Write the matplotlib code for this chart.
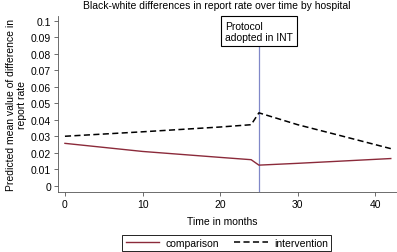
import matplotlib
matplotlib.use("Agg")
import matplotlib.pyplot as plt

plt.rcParams["font.family"] = ["Liberation Sans", "DejaVu Sans"]

# values
months_comp = [0, 10, 20, 24, 25, 30, 35, 42]
comparison = [0.0257, 0.0208, 0.0172, 0.0158, 0.0125, 0.0136, 0.0148, 0.0165]
months_int = [0, 10, 20, 24, 25, 30, 35, 42]
intervention = [0.0300, 0.0327, 0.0356, 0.0370, 0.0442, 0.0370, 0.0310, 0.0225]
protocol_month = 25
yticks = [0, 0.01, 0.02, 0.03, 0.04, 0.05, 0.06, 0.07, 0.08, 0.09, 0.1]
ytick_labels = ["0", "0.01", "0.02", "0.03", "0.04", "0.05", "0.06", "0.07", "0.08", "0.09", "0.1"]
xticks = [0, 10, 20, 30, 40]

FS = 7.5

fig = plt.figure(figsize=(3.97, 2.53), dpi=100)
ax = fig.add_axes([0.146, 0.237, 0.854, 0.696])

ax.plot(months_comp, comparison, color="#8b2a3a", lw=1.0, label="comparison")
ax.plot(months_int, intervention, color="black", lw=1.1, ls=(0, (4, 2.2)), label="intervention")
ax.plot([protocol_month, protocol_month], [-0.004, 0.084], color="#8088c8", lw=0.9, zorder=1)

ax.text(protocol_month, 0.0935, "Protocol\nadopted in INT", fontsize=FS, ha="center", va="center",
        multialignment="left", clip_on=False,
        bbox=dict(boxstyle="square,pad=0.4", fc="white", ec="black", lw=0.8))

ax.set_xlim(-0.9, 42.8)
ax.set_ylim(-0.0038, 0.1029)
ax.set_xticks(xticks)
ax.set_yticks(yticks)
ax.set_yticklabels(ytick_labels)
ax.tick_params(labelsize=FS, length=3, width=0.6, color="#555555", pad=2)
for s in ["top", "right"]:
    ax.spines[s].set_visible(False)
for s in ["left", "bottom"]:
    ax.spines[s].set_color("#555555")
    ax.spines[s].set_linewidth(0.6)

ax.set_ylabel("Predicted mean value of difference in\nreport rate", fontsize=FS, labelpad=3, linespacing=1.05)
fig.text(0.56, 0.122, "Time in months", fontsize=FS, ha="center", va="center")
fig.text(0.545, 0.976, "Black-white differences in report rate over time by hospital",
         fontsize=FS, ha="center", va="center")

leg = fig.legend(loc="center", bbox_to_anchor=(0.571, 0.036), ncol=2, fontsize=FS,
                 fancybox=False, edgecolor="black", handlelength=3.2, columnspacing=1.5,
                 handletextpad=0.6, borderpad=0.3, framealpha=1)
leg.get_frame().set_linewidth(0.6)

fig.savefig("out.png", dpi=100)
